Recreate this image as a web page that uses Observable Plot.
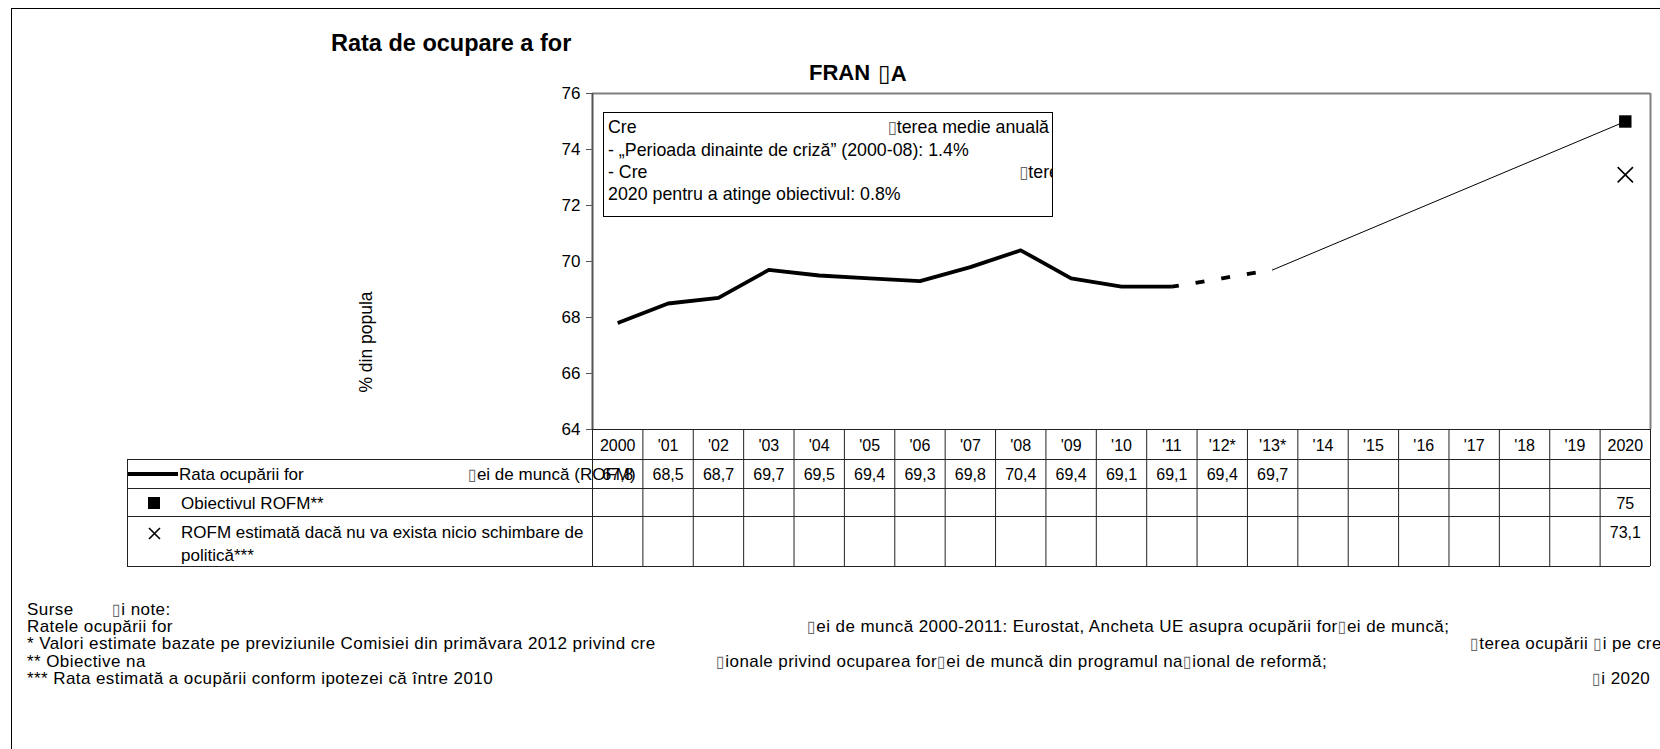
<!DOCTYPE html>
<html>
<head>
<meta charset="utf-8">
<script src="https://cdn.jsdelivr.net/npm/d3@7"></script>
<script src="https://cdn.jsdelivr.net/npm/@observablehq/plot@0.6"></script>
<style>
  html, body { margin: 0; padding: 0; background: #fff; }
  #page { position: relative; width: 1660px; height: 749px; overflow: hidden; font-family: "Liberation Sans", Arial, sans-serif; color: #000; }
  .t { position: absolute; white-space: nowrap; line-height: 1; }
  .nd { font-family: "DejaVu Sans", sans-serif; font-size: 0.95em; color: #666; font-weight: normal; line-height: 1; }
  .ndb { color: #000; font-weight: bold; font-size: 1.05em; }
  .fn { font-size: 17px; letter-spacing: 0.42px; }
  #plot { position: absolute; left: 0; top: 80px; }
</style>
</head>
<body>
<div id="page">
  <div style="position:absolute;left:11px;top:8px;width:1700px;height:800px;border:1.5px solid #000;"></div>

  <div class="t" style="left:331px;top:32px;font-size:23.5px;font-weight:bold;">Rata de ocupare a for</div>
  <div class="t" style="left:809px;top:62px;font-size:22px;font-weight:bold;">FRAN</div>
  <div class="t" style="left:878px;top:62px;font-size:22px;font-weight:bold;"><span class="nd ndb">▯</span>A</div>

  <div id="plot"></div>

  <div class="t" style="left:367px;top:342px;font-size:17.5px;transform:translate(-50%,-50%) rotate(-90deg);">% din popula</div>

  <div style="position:absolute;left:603px;top:112px;width:450px;height:105px;border:1.5px solid #000;box-sizing:border-box;overflow:hidden;background:#fff;">
    <div class="t" style="left:4px;top:6px;font-size:17.8px;">Cre</div>
    <div class="t" style="right:3px;top:6px;font-size:17.8px;"><span class="nd">▯</span>terea medie anuală</div>
    <div class="t" style="left:4px;top:29px;font-size:17.8px;">- „Perioada dinainte de criză” (2000-08): 1.4%</div>
    <div class="t" style="left:4px;top:51px;font-size:17.8px;">- Cre</div>
    <div class="t" style="left:415px;top:51px;font-size:17.8px;"><span class="nd">▯</span>terea</div>
    <div class="t" style="left:4px;top:73px;font-size:17.8px;">2020 pentru a atinge obiectivul: 0.8%</div>
  </div>

  <div style="position:absolute;left:128px;top:472px;width:50px;height:3.8px;background:#000;"></div>
  <div class="t" style="left:179px;top:466px;font-size:17px;">Rata ocupării for</div>
  <div class="t" style="left:468px;top:466px;font-size:17px;"><span class="nd">▯</span>ei de muncă (ROFM)</div>
  <div style="position:absolute;left:148px;top:497px;width:12px;height:12px;background:#000;"></div>
  <div class="t" style="left:181px;top:495px;font-size:17px;">Obiectivul ROFM**</div>
  <svg style="position:absolute;left:148px;top:527px;" width="13" height="13"><path d="M1,1L12,12M12,1L1,12" stroke="#000" stroke-width="1.6"/></svg>
  <div class="t" style="left:181px;top:524px;font-size:17px;">ROFM estimată dacă nu va exista nicio schimbare de</div>
  <div class="t" style="left:181px;top:547px;font-size:17px;">politică***</div>

  <div class="t fn" style="left:27px;top:601px;">Surse</div>
  <div class="t fn" style="left:112px;top:601px;"><span class="nd">▯</span>i note:</div>
  <div class="t fn" style="left:27px;top:618.2px;">Ratele ocupării for</div>
  <div class="t fn" style="left:807px;top:618.2px;"><span class="nd">▯</span>ei de muncă 2000-2011: Eurostat, Ancheta UE asupra ocupării for<span class="nd">▯</span>ei de muncă;</div>
  <div class="t fn" style="left:27px;top:635.4px;">* Valori estimate bazate pe previziunile Comisiei din primăvara 2012 privind cre</div>
  <div class="t fn" style="left:1470px;top:635.4px;"><span class="nd">▯</span>terea ocupării <span class="nd">▯</span>i pe cre<span class="nd">▯</span></div>
  <div class="t fn" style="left:27px;top:652.6px;">** Obiective na</div>
  <div class="t fn" style="left:716px;top:652.6px;"><span class="nd">▯</span>ionale privind ocuparea for<span class="nd">▯</span>ei de muncă din programul na<span class="nd">▯</span>ional de reformă;</div>
  <div class="t fn" style="left:27px;top:669.8px;">*** Rata estimată a ocupării conform ipotezei că între 2010</div>
  <div class="t fn" style="left:1592px;top:669.8px;"><span class="nd">▯</span>i 2020</div>
</div>

<script>
const categories = ["2000","'01","'02","'03","'04","'05","'06","'07","'08","'09","'10","'11","'12*","'13*","'14","'15","'16","'17","'18","'19","2020"];
const rataValues = [67.8, 68.5, 68.7, 69.7, 69.5, 69.4, 69.3, 69.8, 70.4, 69.4, 69.1, 69.1, 69.4, 69.7];
const lastActualLabel = "'11";
const targetLabel = "2020";
const targetValue = 75;
const noChangeValue = 73.1;
const yTicks = [64, 66, 68, 70, 72, 74, 76];

const fmt = v => String(v).replace(".", ",");
const idx = l => categories.indexOf(l);

const rata = rataValues.map((v, i) => ({i, v}));
const lastActual = idx(lastActualLabel);
const solid = rata.slice(0, lastActual + 1);
const dashed = rata.slice(lastActual);
const target = [{i: idx(targetLabel), v: targetValue}];
const noChange = [{i: idx(targetLabel), v: noChangeValue}];
const trend = [rata[rata.length - 1], target[0]];
const cols = categories.map((c, i) => ({i, c}));
const edges = d3.range(categories.length + 1).map(k => k - 0.5);

const W = 1660, H = 490, mL = 592, mR = 10, mT = 13, mB = 141;
const frameH = H - mT - mB;
const tableLeft = 127;

const chart = Plot.plot({
  width: W, height: H,
  marginLeft: mL, marginRight: mR, marginTop: mT, marginBottom: mB,
  style: {fontFamily: "Liberation Sans, Arial, sans-serif", fontSize: "16px", color: "#000", background: "transparent", overflow: "visible"},
  x: {domain: [-0.5, categories.length - 0.5], axis: null},
  y: {domain: [64, 76], axis: null},
  marks: [
    Plot.ruleY([76], {stroke: "#808080", strokeWidth: 2}),
    Plot.ruleX([categories.length - 0.5], {stroke: "#808080", strokeWidth: 2}),
    Plot.ruleX(edges, {stroke: "#222", strokeWidth: 1, insetTop: frameH, insetBottom: -137}),
    Plot.ruleX([-0.5], {stroke: "#222", strokeWidth: 1, dx: tableLeft - mL, insetTop: frameH + 30, insetBottom: -137}),
    Plot.ruleY([64], {stroke: "#222", strokeWidth: 1.2}),
    Plot.ruleY([64], {stroke: "#222", strokeWidth: 1, dy: 30, insetLeft: tableLeft - mL}),
    Plot.ruleY([64], {stroke: "#222", strokeWidth: 1, dy: 59, insetLeft: tableLeft - mL}),
    Plot.ruleY([64], {stroke: "#222", strokeWidth: 1, dy: 87, insetLeft: tableLeft - mL}),
    Plot.ruleY([64], {stroke: "#222", strokeWidth: 1, dy: 137, insetLeft: tableLeft - mL}),
    Plot.ruleX([-0.5], {stroke: "#555", strokeWidth: 2}),
    Plot.axisY({ticks: yTicks, tickSize: 6, tickPadding: 6, fontSize: 17, label: null, stroke: "#555"}),
    Plot.line(trend, {x: "i", y: "v", stroke: "#000", strokeWidth: 1}),
    Plot.line(solid, {x: "i", y: "v", stroke: "#000", strokeWidth: 3.8, strokeLinecap: "butt"}),
    Plot.line(dashed, {x: "i", y: "v", stroke: "#000", strokeWidth: 3.8, strokeLinecap: "butt", strokeDasharray: "9,17", strokeDashoffset: 2}),
    Plot.dot(target, {x: "i", y: "v", symbol: "square", r: 7, fill: "#000", stroke: null}),
    Plot.dot(noChange, {x: "i", y: "v", symbol: "times", r: 7, stroke: "#000", strokeWidth: 1.6}),
    Plot.text(cols, {x: "i", frameAnchor: "bottom", dy: 16, text: "c", fontSize: 16, lineAnchor: "middle"}),
    Plot.text(rata, {x: "i", frameAnchor: "bottom", dy: 45, text: d => fmt(d.v), fontSize: 16, lineAnchor: "middle"}),
    Plot.text(target, {x: "i", frameAnchor: "bottom", dy: 74, text: d => fmt(d.v), fontSize: 16, lineAnchor: "middle"}),
    Plot.text(noChange, {x: "i", frameAnchor: "bottom", dy: 103, text: d => fmt(d.v), fontSize: 16, lineAnchor: "middle"})
  ]
});
document.getElementById("plot").appendChild(chart);
</script>
</body>
</html>
